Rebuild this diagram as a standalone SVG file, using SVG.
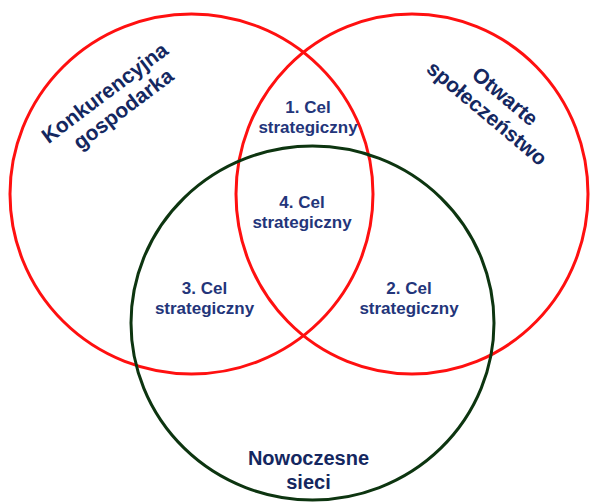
<svg xmlns="http://www.w3.org/2000/svg" width="591" height="502" viewBox="0 0 591 502">
<style>
.red{fill:none;stroke:#ff1010;stroke-width:3}
.green{fill:none;stroke:#0d3510;stroke-width:3}
.big{font-family:"Liberation Sans",Arial,sans-serif;font-weight:bold;font-size:21px;fill:#142760;text-anchor:middle}
.small{font-family:"Liberation Sans",Arial,sans-serif;font-weight:bold;font-size:17px;fill:#23357a;text-anchor:middle}
</style>
<rect width="591" height="502" fill="#ffffff"/>
<g id="connectors"></g>
<g id="konkurencyjna">
<ellipse class="red" cx="191.5" cy="194" rx="181.5" ry="180"/>
<g transform="translate(109,98.5) rotate(-37)">
<text class="big" x="0" y="0">Konkurencyjna</text>
<text class="big" x="5" y="24">gospodarka</text>
</g>
</g>
<g id="otwarte">
<ellipse class="red" cx="412" cy="194" rx="176" ry="180"/>
<g transform="translate(500.5,102) rotate(40)">
<text class="big" x="0" y="0">Otwarte</text>
<text class="big" x="-3" y="24.5">społeczeństwo</text>
</g>
</g>
<g id="nowoczesne">
<ellipse class="green" cx="312.5" cy="323" rx="181.5" ry="177"/>
<text class="big" style="font-size:20px" x="308.5" y="465">Nowoczesne</text>
<text class="big" style="font-size:20px" x="308.5" y="489">sieci</text>
</g>
<g id="cel1">
<text class="small" x="308" y="113">1. Cel</text>
<text class="small" x="308" y="133">strategiczny</text>
</g>
<g id="cel4">
<text class="small" x="302" y="208">4. Cel</text>
<text class="small" x="302" y="228">strategiczny</text>
</g>
<g id="cel3">
<text class="small" x="204.5" y="294">3. Cel</text>
<text class="small" x="204.5" y="314">strategiczny</text>
</g>
<g id="cel2">
<text class="small" x="409" y="294">2. Cel</text>
<text class="small" x="409" y="314">strategiczny</text>
</g>
</svg>
